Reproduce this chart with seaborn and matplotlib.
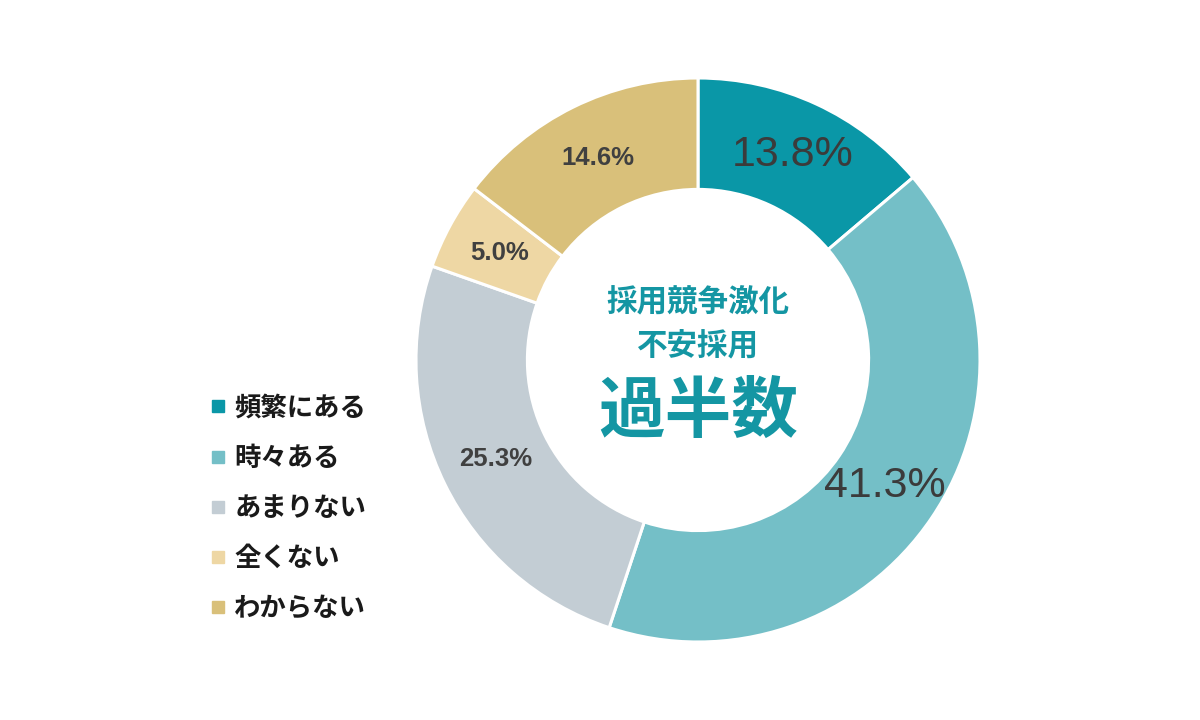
import matplotlib
matplotlib.use("Agg")
import matplotlib.pyplot as plt
import seaborn as sns
from matplotlib.lines import Line2D

categories = ["頻繁にある", "時々ある", "あまりない", "全くない", "わからない"]
values = [13.8, 41.3, 25.3, 5.0, 14.6]
colors = ["#0A97A7", "#74BFC7", "#C3CDD4", "#EED7A4", "#D9C07A"]
center_lines = ["採用競争激化", "不安採用"]
center_big = "過半数"

sns.set_theme(style="white")
plt.rcParams['font.family'] = ['Noto Sans CJK JP', 'DejaVu Sans']

fig = plt.figure(figsize=(12, 7.2), dpi=100)
fig.patch.set_facecolor("white")
ax = fig.add_axes([0, 0, 1, 1])

wedges, texts, autotexts = ax.pie(
    values, colors=colors, startangle=90, counterclock=False,
    radius=1.0, wedgeprops=dict(width=0.395, edgecolor="white", linewidth=2.2),
    autopct=lambda p: f"{p:.1f}%", pctdistance=0.80,
)
for i, t in enumerate(autotexts):
    t.set_family(['Liberation Sans', 'DejaVu Sans'])
    if i in (0, 1):
        t.set_fontsize(31)
        t.set_color("#3b3b3b")
        t.set_fontweight("normal")
    else:
        t.set_fontsize(18.5)
        t.set_color("#404040")
        t.set_fontweight("bold")

ax.set_xlim(-698 / 282, (1200 - 698) / 282)
ax.set_ylim(-360 / 282, 360 / 282)
ax.set_aspect("equal")
ax.axis("off")

teal = "#1496A3"
ax.text(0, (360 - 302) / 282, center_lines[0], ha="center", va="center",
        fontsize=22, fontweight="bold", color=teal)
ax.text(0, (360 - 346) / 282, center_lines[1], ha="center", va="center",
        fontsize=22, fontweight="bold", color=teal)
ax.text(0, (360 - 412) / 282, center_big, ha="center", va="center",
        fontsize=48, fontweight="bold", color=teal)

handles = [Line2D([0], [0], marker="s", linestyle="none", markersize=8,
                  markerfacecolor=c, markeredgecolor=c) for c in colors]
leg = ax.legend(handles, categories, loc="upper left",
                bbox_to_anchor=(200 / 1200, 1 - 384 / 720),
                frameon=False, fontsize=19, handlelength=0.55,
                handletextpad=0.35, labelspacing=0.88, borderaxespad=0)
for t in leg.get_texts():
    t.set_fontweight("bold")
    t.set_color("#1a1a1a")

fig.savefig("out.png", dpi=100, facecolor="white")
